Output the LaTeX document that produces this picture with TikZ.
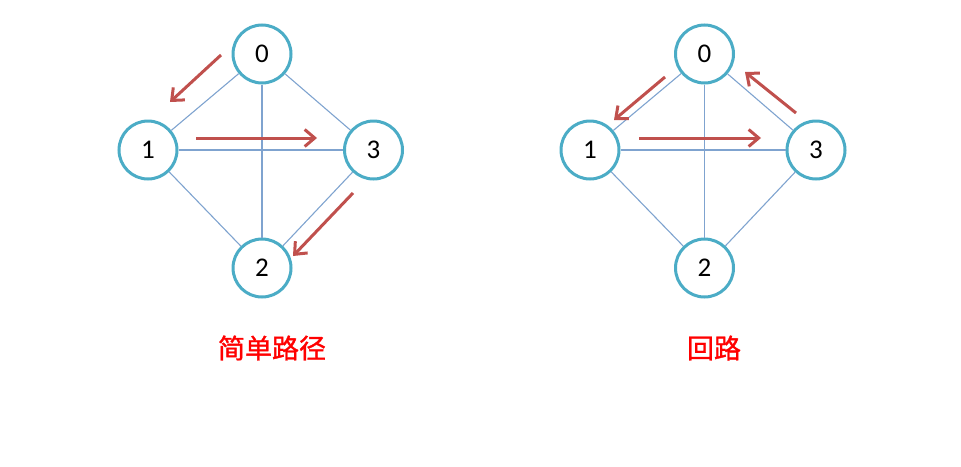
\documentclass[tikz,border=0pt]{standalone}
\usepackage{fontspec}
\setmainfont{Carlito}
\newfontfamily\cjk[FakeBold=1.2]{Noto Sans CJK SC}
\usetikzlibrary{arrows.meta}
\definecolor{ringc}{HTML}{4BACC6}
\definecolor{edgec}{HTML}{7FA3CF}
\definecolor{arrc}{HTML}{C0504D}
\tikzset{
  vtx/.style={circle, draw=ringc, line width=3pt, fill=white, minimum size=58pt, inner sep=0pt, font=\fontsize{27}{27}\selectfont},
  edg/.style={draw=edgec, line width=1.1pt},
  walk/.style={draw=arrc, line width=3pt, -{Straight Barb[length=10pt,width=17pt]}},
  captxt/.style={text=red, font=\cjk\fontsize{27}{27}\selectfont, inner sep=0pt}
}
\begin{document}
\begin{tikzpicture}[x=1pt,y=-1pt]
\useasboundingbox (0,0) rectangle (961,466);
% left graph
\node[vtx] (a0) at (262,54) {0};
\node[vtx] (a1) at (148,150) {1};
\node[vtx] (a3) at (373.5,150) {3};
\node[vtx] (a2) at (262,268) {2};
\draw[edg] (a0) -- (a1);
\draw[edg] (a0) -- (a3);
\draw[edg] (a0) -- (a2);
\draw[edg] (a1) -- (a3);
\draw[edg] (a1) -- (a2);
\draw[edg] (a3) -- (a2);
\coordinate (la1s) at (221,55); \coordinate (la1e) at (170,102);
\coordinate (la2s) at (196,138); \coordinate (la2e) at (317,138);
\coordinate (la3s) at (353,193); \coordinate (la3e) at (293,256);
\draw[walk] (la1s) -- (la1e);
\draw[walk] (la2s) -- (la2e);
\draw[walk] (la3s) -- (la3e);
\node[captxt] (capa) at (272,348) {简单路径};
% right graph
\node[vtx] (b0) at (704.5,54) {0};
\node[vtx] (b1) at (590,150) {1};
\node[vtx] (b3) at (816,150) {3};
\node[vtx] (b2) at (704.5,268) {2};
\draw[edg] (b0) -- (b1);
\draw[edg] (b0) -- (b3);
\draw[edg] (b0) -- (b2);
\draw[edg] (b1) -- (b3);
\draw[edg] (b1) -- (b2);
\draw[edg] (b3) -- (b2);
\coordinate (lb1s) at (665,77); \coordinate (lb1e) at (614,120);
\coordinate (lb2s) at (639,138); \coordinate (lb2e) at (761,138);
\coordinate (lb3s) at (796,113); \coordinate (lb3e) at (745,72);
\draw[walk] (lb1s) -- (lb1e);
\draw[walk] (lb2s) -- (lb2e);
\draw[walk] (lb3s) -- (lb3e);
\node[captxt] (capb) at (714,348) {回路};
\end{tikzpicture}
\end{document}
